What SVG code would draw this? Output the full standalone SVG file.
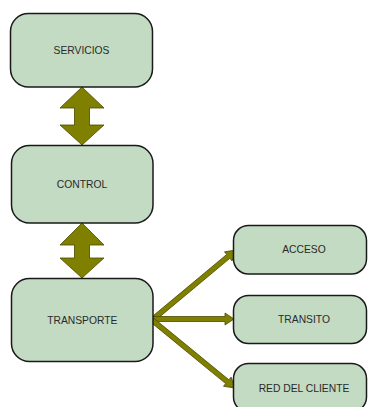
<svg xmlns="http://www.w3.org/2000/svg" width="368" height="407" viewBox="0 0 368 407">
<style>
.box{fill:#c3dac3;stroke:#1a1a1a;stroke-width:1.5}
.lbl{font-family:"Liberation Sans",Arial,sans-serif;font-size:10.3px;fill:#2a2a2a;text-anchor:middle;dominant-baseline:central}
.arr{fill:#7f7f00;stroke:#4a4a00;stroke-width:0.8;stroke-linejoin:miter}
</style>
<rect width="368" height="407" fill="#ffffff"/>
<g id="connectors">
<polygon class="arr" points="82,87 104,108 89.5,108 89.5,125 104,125 82,145 60,125 74.5,125 74.5,108 60,108"/>
<polygon class="arr" points="82,223 104,245 89.5,245 89.5,258 104,258 82,278 60,258 74.5,258 74.5,245 60,245"/>
<polygon class="arr" points="153.6,321.9 229.9,258.3 232.1,261.0 236,250 224.5,251.8 226.7,254.5 150.4,318.1"/>
<polygon class="arr" points="152,321.5 225,321.5 225,325 234,319 225,313 225,316.5 152,316.5"/>
<polygon class="arr" points="153.6,318.1 228.9,379.8 231.1,377.1 235,388 223.5,386.3 225.7,383.6 150.4,321.9"/>
</g>
<g id="servicios">
<rect class="box" x="10.5" y="13.5" width="142" height="73.5" rx="18"/>
<text class="lbl" x="81.5" y="50">SERVICIOS</text>
</g>
<g id="control">
<rect class="box" x="11.5" y="145.5" width="141.5" height="77.5" rx="18"/>
<text class="lbl" x="82" y="184">CONTROL</text>
</g>
<g id="transporte">
<rect class="box" x="11.5" y="278.5" width="141.5" height="83" rx="18"/>
<text class="lbl" x="82.3" y="320">TRANSPORTE</text>
</g>
<g id="acceso">
<rect class="box" x="233.5" y="225.5" width="133" height="48.5" rx="15"/>
<text class="lbl" x="304" y="249.5">ACCESO</text>
</g>
<g id="transito">
<rect class="box" x="233.5" y="295.5" width="133" height="48" rx="15"/>
<text class="lbl" x="304" y="319.5">TRANSITO</text>
</g>
<g id="red-del-cliente">
<rect class="box" x="233.5" y="363.5" width="133" height="48.5" rx="15"/>
<text class="lbl" x="304" y="388">RED DEL CLIENTE</text>
</g>
</svg>
